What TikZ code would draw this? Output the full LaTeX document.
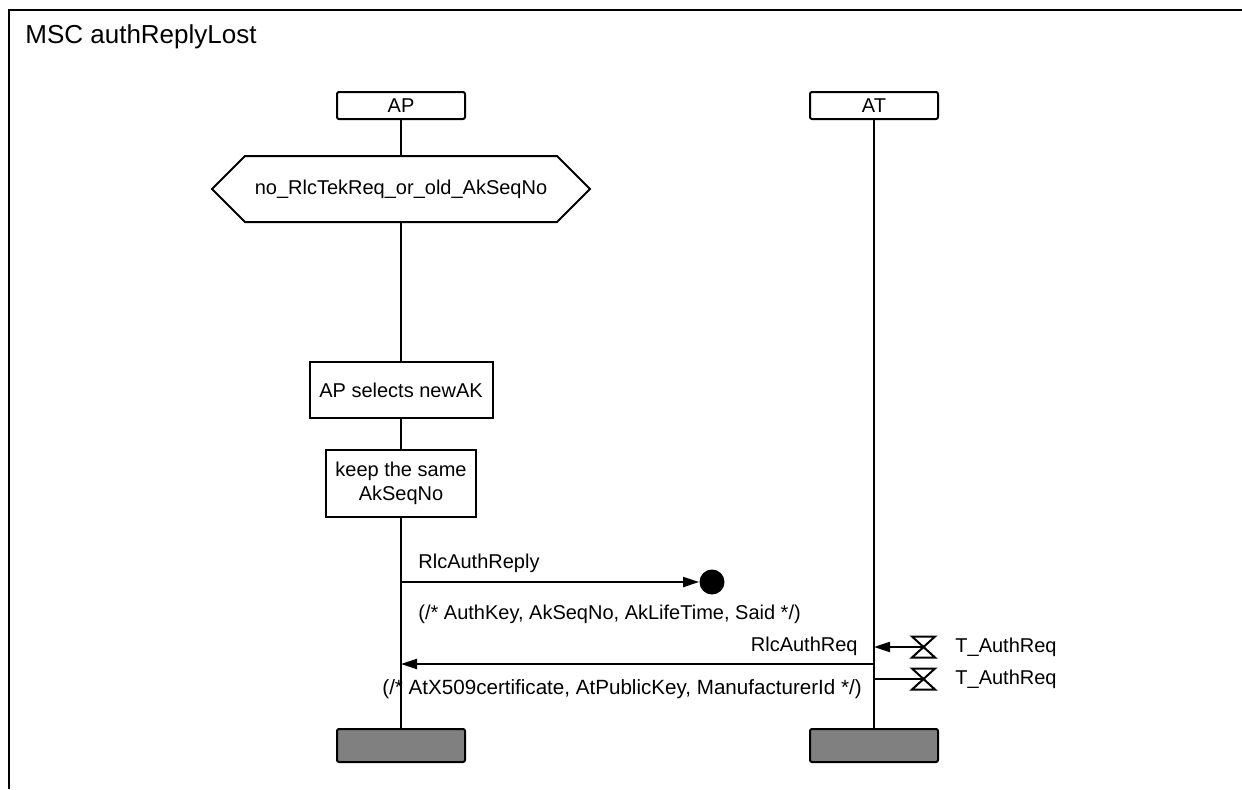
\documentclass[tikz,border=0pt]{standalone}
\usepackage{fontspec}
\setmainfont{Liberation Sans}
\usetikzlibrary{arrows.meta, positioning, shapes.symbols}
\tikzset{
  instance/.style={
    rectangle,
    rounded corners=1pt,
    draw,
    line width=1pt,
    fill=white,
    minimum width=64pt,
    minimum height=13.5pt,
    inner sep=0pt,
    font=\fontsize{10}{12}\selectfont
  },
  stopbox/.style={
    instance,
    fill=black!50,
    minimum height=16.5pt
  },
  action/.style={
    rectangle,
    draw,
    line width=1pt,
    fill=white,
    align=center,
    inner sep=0pt,
    font=\fontsize{10}{12}\selectfont
  },
  condition/.style={
    signal,
    signal to=east and west,
    draw,
    line width=1pt,
    fill=white,
    inner sep=0pt,
    font=\fontsize{10}{12}\selectfont
  },
  msgtext/.style={inner sep=0pt, font=\fontsize{10}{12}\selectfont},
  lifeline/.style={line width=1pt},
  msg/.style={-{Triangle[length=8pt, width=5pt]}, line width=1pt},
  lostpoint/.style={circle, fill=black, minimum size=12.5pt, inner sep=0pt}
}

\begin{document}
\begin{tikzpicture}[x=0.5pt, y=-0.5pt]
  \useasboundingbox (0,0) rectangle (1242,789);

  % frame and title
  \draw[line width=1pt] (9,789) -- (9,10) -- (1242,10);
  \node[anchor=base west, inner sep=0pt, font=\fontsize{13}{15}\selectfont]
        (title) at (25,43) {MSC authReplyLost};

  % instances
  \node[instance] (ap) at (401,105.5) {AP};
  \node[instance] (at) at (874,105.5) {AT};
  \node[stopbox] (apend) at (401,745.5) {};
  \node[stopbox] (atend) at (874,745.5) {};

  \draw[lifeline] (ap) -- (apend);
  \draw[lifeline] (at) -- (atend);

  % AP side
  \node[condition, minimum width=189pt, minimum height=33pt] (cond)
        at (401,189) {no\_RlcTekReq\_or\_old\_AkSeqNo};
  \node[action, minimum width=91.5pt, minimum height=28pt] (select)
        at (401,390) {AP selects newAK};
  \node[action, minimum width=75pt, minimum height=33.5pt] (keep)
        at (401,483.5) {keep the same\\AkSeqNo};

  % lost reply
  \coordinate (replyfrom) at (401,582);
  \node[lostpoint] (lost) at (712,582) {};
  \draw[msg] (replyfrom) -- (lost);
  \node[msgtext, anchor=base west] (replylbl) at (418,568) {RlcAuthReply};
  \node[msgtext, anchor=base west] (replyparam) at (418,619)
        {(/* AuthKey, AkSeqNo, AkLifeTime, Said */)};

  % request
  \coordinate (reqfrom) at (874,664);
  \coordinate (reqto) at (401,664);
  \draw[msg] (reqfrom) -- (reqto);
  \node[msgtext, anchor=base east] (reqlbl) at (858,651) {RlcAuthReq};
  \node[msgtext, anchor=base west, font=\fontsize{10.3}{12}\selectfont] (reqparam)
        at (382,694) {(/* AtX509certificate, AtPublicKey, ManufacturerId */)};

  % timers
  \coordinate (tset) at (923.5,647);
  \coordinate (treset) at (923.5,679);
  \draw[line width=1pt] (tset) ++(-11.5,-10.5) -- ++(23,0) -- ++(-23,21) -- ++(23,0) -- cycle;
  \draw[line width=1pt] (treset) ++(-11.5,-10.5) -- ++(23,0) -- ++(-23,21) -- ++(23,0) -- cycle;
  \draw[msg] (tset) -- (at |- tset);
  \draw[line width=1pt] (at |- treset) -- (treset);
  \node[msgtext, anchor=west] (tsetlbl) at (955,647) {T\_AuthReq};
  \node[msgtext, anchor=west] (tresetlbl) at (955,679) {T\_AuthReq};
\end{tikzpicture}
\end{document}
